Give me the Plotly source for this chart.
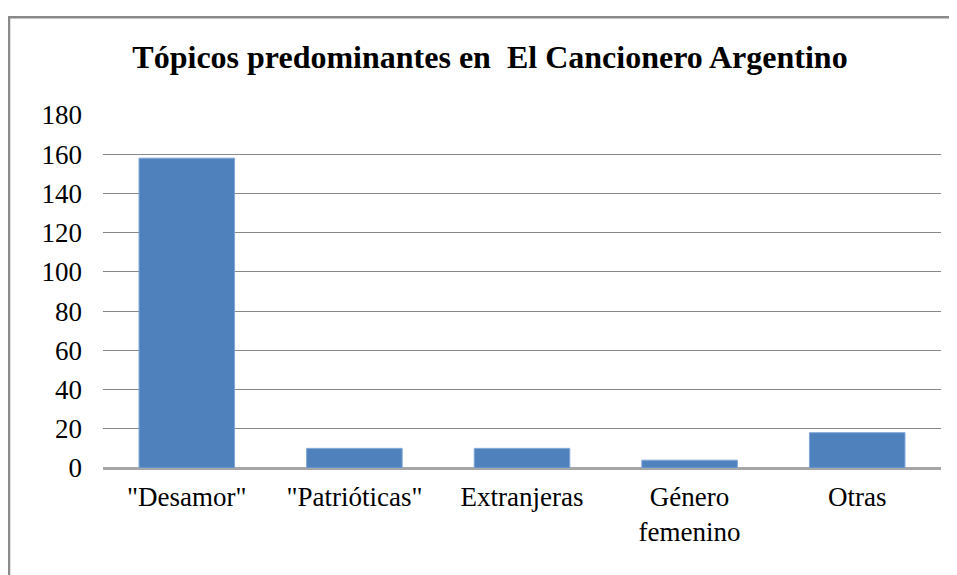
import plotly.graph_objects as go

categories = ['"Desamor"', '"Patrióticas"', 'Extranjeras', 'Género<br>femenino', 'Otras']
values = [158, 10, 10, 4, 18]
y_ticks = [0, 20, 40, 60, 80, 100, 120, 140, 160, 180]
title_text = "Tópicos predominantes en  El Cancionero Argentino"

OFF = 8  # default body margin of the html page
W, H = 957 - OFF, 575 - OFF
ml, mr, mt, mb = 103 - OFF, 16, 115 - OFF, 107
pw = W - ml - mr
ph = H - mt - mb
SERIF = "Liberation Serif"

fig = go.Figure(go.Bar(
    x=categories, y=values,
    marker=dict(color="#4F81BD", line=dict(color="#7FA6D6", width=1)),
))

fig.update_layout(
    width=W, height=H,
    margin=dict(l=ml, r=mr, t=mt, b=mb),
    paper_bgcolor="white", plot_bgcolor="white",
    font=dict(family=SERIF, color="black", size=27),
    title=dict(text="<b>" + title_text.replace("  ", " &nbsp;") + "</b>",
               x=(490 - OFF) / W, xanchor="center", xref="container",
               y=1 - (57 - OFF) / H, yanchor="middle", yref="container",
               font=dict(size=32, family=SERIF, color="black")),
    showlegend=False,
    bargap=0.43,
)
fig.update_xaxes(showgrid=False, showline=False, ticks="", ticklabelstandoff=10, zeroline=False)
fig.update_yaxes(range=[0, 180], tickvals=y_ticks, showgrid=True, gridcolor="#878787", gridwidth=1.3,
                 zeroline=True, zerolinecolor="#A6A6A6", zerolinewidth=2.5,
                 showline=False, ticks="", ticklabelstandoff=20)

fig.add_shape(type="rect", xref="paper", yref="paper",
              x0=(9 - 103) / pw, x1=1.2, y0=-0.5, y1=(467.7 - 17) / ph,
              line=dict(color="#8A8A8A", width=2.5), fillcolor="rgba(0,0,0,0)", layer="above")

fig.write_html("out.html")
